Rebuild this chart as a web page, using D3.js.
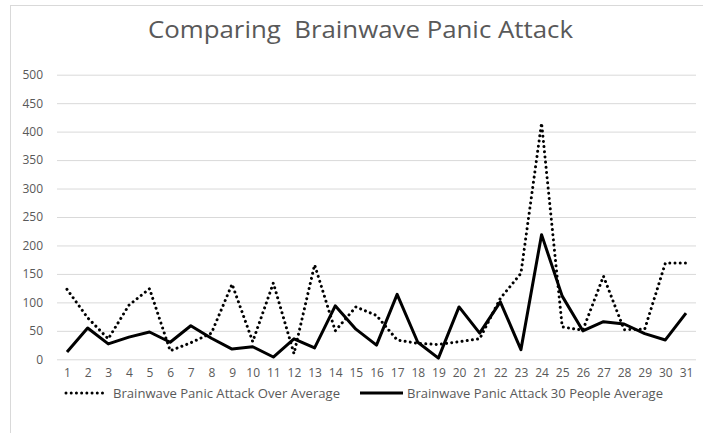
<!DOCTYPE html>
<html>
<head>
<meta charset="utf-8">
<script src="https://cdn.jsdelivr.net/npm/d3@7"></script>
<style>
  html, body { margin: 0; padding: 0; background: #fff; }
  svg { display: block; }
  text { font-family: "Open Sans", "Noto Sans", sans-serif; fill: #595959; }
</style>
</head>
<body>
<svg id="chart" width="703" height="433"></svg>
<script>
const days = [1,2,3,4,5,6,7,8,9,10,11,12,13,14,15,16,17,18,19,20,21,22,23,24,25,26,27,28,29,30,31];
const overAverage = [123,73,36,95,124,15,29,46,132,31,134,10,166,50,92,77,34,28,26,31,36,107,151,415,57,51,146,52,53,169,169];
const peopleAverage = [13,55,27,39,48,30,59,37,18,22,4,36,20,94,53,25,114,30,2,92,46,101,17,219,111,50,66,62,45,34,81];
const yTicks = [0,50,100,150,200,250,300,350,400,450,500];
const seriesNames = ["Brainwave Panic Attack Over Average", "Brainwave Panic Attack 30 People Average"];
const titleText = "Comparing\u00A0 Brainwave Panic Attack";

const svg = d3.select("#chart");

// outer frame (cropped on right/bottom)
svg.append("rect").attr("x", 10.5).attr("y", 5.5).attr("width", 900).attr("height", 600)
  .attr("fill", "none").attr("stroke", "#d9d9d9").attr("stroke-width", 1);

const plotLeft = 57, plotRight = 696;
const x = d3.scaleLinear().domain([1, 31]).range([67, 686]);
const y = d3.scaleLinear().domain([0, 500]).range([359.3, 74.7]);

// y axis with gridlines
const gy = svg.append("g").attr("transform", `translate(${plotLeft},0)`)
  .call(d3.axisLeft(y).tickValues(yTicks).tickSize(-(plotRight - plotLeft)).tickPadding(14));
gy.select(".domain").remove();
gy.selectAll(".tick line").attr("stroke", "#d9d9d9").attr("stroke-width", 1);
gy.selectAll(".tick text").style("font-size", "12px").attr("fill", "#595959");

// x axis labels
const gx = svg.append("g").attr("transform", `translate(0,${y(0)})`)
  .call(d3.axisBottom(x).tickValues(days).tickFormat(d3.format("d")).tickSize(0).tickPadding(9));
gx.select(".domain").remove();
gx.selectAll(".tick text").style("font-size", "12px").attr("fill", "#595959");

const line = d3.line().x((d, i) => x(days[i])).y(d => y(d));

svg.append("path").datum(overAverage).attr("d", line)
  .attr("fill", "none").attr("stroke", "#000").attr("stroke-width", 3)
  .attr("stroke-linecap", "round").attr("stroke-dasharray", "0.01 5.2");

svg.append("path").datum(peopleAverage).attr("d", line)
  .attr("fill", "none").attr("stroke", "#000").attr("stroke-width", 3)
  .attr("stroke-linejoin", "round");

// title
svg.append("text").attr("x", 148).attr("y", 38)
  .attr("textLength", 425).attr("lengthAdjust", "spacingAndGlyphs")
  .style("font-size", "23px").attr("fill", "#595959").text(titleText);

// legend
const leg = svg.append("g");
leg.append("line").attr("x1", 66).attr("x2", 106).attr("y1", 393).attr("y2", 393)
  .attr("stroke", "#000").attr("stroke-width", 3).attr("stroke-linecap", "round")
  .attr("stroke-dasharray", "0.01 5.2");
leg.append("text").attr("x", 113).attr("y", 397.5)
  .attr("textLength", 227).attr("lengthAdjust", "spacingAndGlyphs")
  .style("font-size", "12px").text(seriesNames[0]);
leg.append("line").attr("x1", 360).attr("x2", 403).attr("y1", 393).attr("y2", 393)
  .attr("stroke", "#000").attr("stroke-width", 3);
leg.append("text").attr("x", 407).attr("y", 397.5)
  .attr("textLength", 256).attr("lengthAdjust", "spacingAndGlyphs")
  .style("font-size", "12px").text(seriesNames[1]);
</script>
</body>
</html>
